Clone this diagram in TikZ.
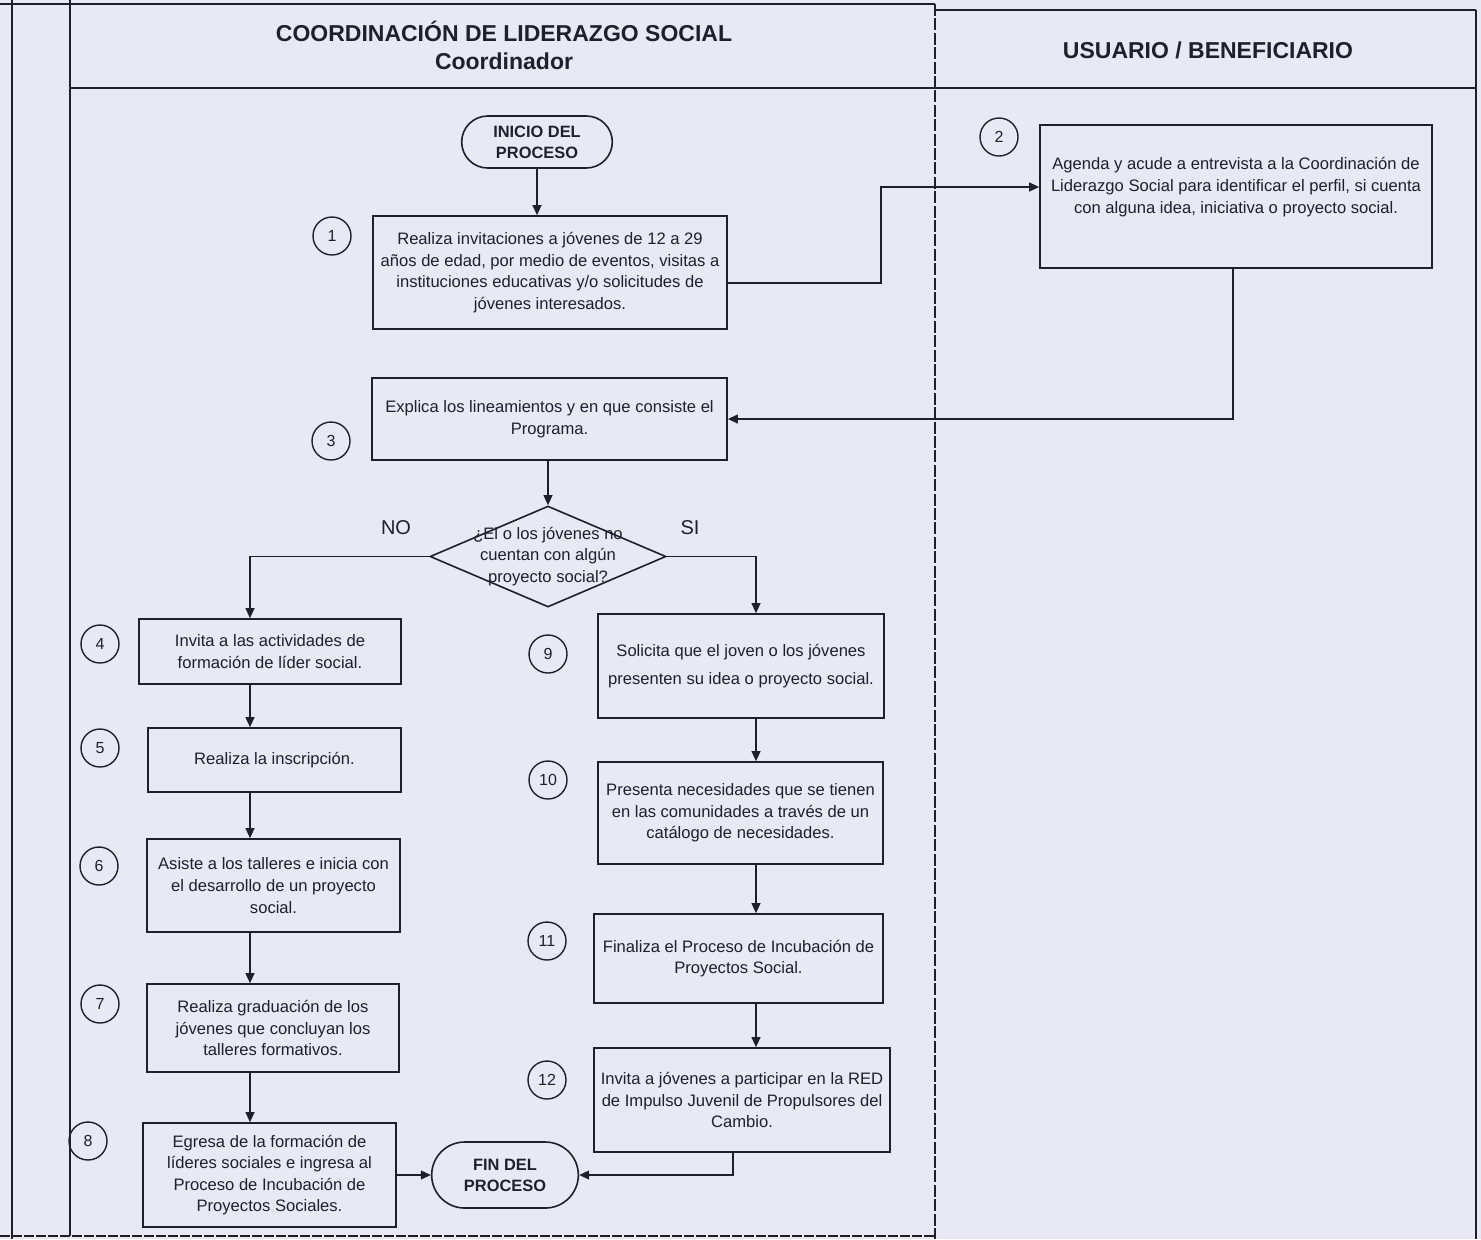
\documentclass[tikz,border=0pt]{standalone}
\usepackage{fontspec}
\setmainfont{Liberation Sans}
\usepackage{tikz}
\usetikzlibrary{arrows.meta}
\usetikzlibrary{shapes}
\usepackage{xcolor}

\definecolor{fondo}{RGB}{231,233,246}
\definecolor{tinta}{RGB}{32,32,38}

\tikzset{
    marco/.style={draw=tinta, line width=0.8pt},
    titulo/.style={text=tinta, font=\bfseries\fontsize{11.5}{13}\selectfont},
    rotulo/.style={text=tinta, font=\fontsize{10}{12}\selectfont},
    texto/.style={text=tinta, align=center, font=\fontsize{8.3}{10.8}\selectfont},
    caja/.style={texto, draw=tinta, line width=0.8pt, inner sep=2pt},
    terminal/.style={draw=tinta, line width=0.8pt, rounded rectangle, align=center,
        text=tinta, font=\bfseries\fontsize{8.2}{10.5}\selectfont,
        minimum width=74pt, minimum height=26pt},
    numero/.style={circle, draw=tinta, line width=0.7pt, minimum size=19pt, inner sep=0pt,
        text=tinta, font=\fontsize{8}{9}\selectfont},
    decision/.style={diamond, draw=tinta, line width=0.8pt, inner sep=0pt,
        minimum width=118pt, minimum height=50.5pt},
    flecha/.style={draw=tinta, line width=0.8pt, -{Triangle[length=5pt,width=4.4pt]}}
}

\begin{document}
\begin{tikzpicture}[x=0.5pt, y=-0.5pt]
                \fill[fondo] (0,0) rectangle (1481,1239);
                \useasboundingbox (0,0) rectangle (1481,1239);

                % carriles
                \draw[marco] (12,0) -- (12,1239);
                \draw[marco] (70,0) -- (70,1236);
                \draw[marco] (0,4) -- (935,4);
                \draw[marco] (935,10) -- (1476,10);
                \draw[marco] (70,88) -- (1476,88);
                \draw[marco, dash pattern=on 6pt off 1.2pt] (935,4) -- (935,1239);
                \draw[marco] (1476,10) -- (1476,1239);
                \draw[marco, dash pattern=on 5pt off 1pt] (0,1236) -- (935,1236);

                \node[titulo] (area) at (504,31) {COORDINACIÓN DE LIDERAZGO SOCIAL};
                \node[titulo] (puesto) at (504,61) {Coordinador};
                \node[titulo] (usuario) at (1208,50) {USUARIO / BENEFICIARIO};

                \coordinate (colA) at (250,0);
                \coordinate (colB) at (756,0);

                % coordinador
                \node[terminal, minimum width=82pt] (inicio) at (537,142) {INICIO DEL\\PROCESO};
                \node[caja, minimum width=177pt, minimum height=56.5pt] (p1) at (550,272.5)
                    {Realiza invitaciones a jóvenes de 12 a 29\\años de edad, por medio de eventos, visitas a\\instituciones educativas y/o solicitudes de\\jóvenes interesados.};
                \node[caja, minimum width=177.5pt, minimum height=41pt] (p3) at (549.5,419)
                    {Explica los lineamientos y en que consiste el\\Programa.};
                \node[decision, label={[texto]center:{¿El o los jóvenes no\\cuentan con algún\\proyecto social?}}] (q) at (548,556.5) {};
                \node[rotulo] (no) at (396,528) {NO};
                \node[rotulo] (si) at (690,528) {SI};

                \node[caja, minimum width=131pt, minimum height=32.5pt] (p4) at (270,651.5)
                    {Invita a las actividades de\\formación de líder social.};
                \node[caja, minimum width=126.5pt, minimum height=32pt] (p5) at (274.5,760)
                    {Realiza la inscripción.};
                \node[caja, minimum width=126.5pt, minimum height=46.5pt] (p6) at (273.5,885.5)
                    {Asiste a los talleres e inicia con\\el desarrollo de un proyecto\\social.};
                \node[caja, minimum width=126pt, minimum height=44pt] (p7) at (273,1028)
                    {Realiza graduación de los\\jóvenes que concluyan los\\talleres formativos.};
                \node[caja, minimum width=126.5pt, minimum height=52pt] (p8) at (269.5,1175)
                    {Egresa de la formación de\\líderes sociales e ingresa al\\Proceso de Incubación de\\Proyectos Sociales.};
                \node[terminal, minimum width=80pt, minimum height=33pt] (fin) at (505,1175) {FIN DEL\\PROCESO};

                \node[caja, minimum width=143pt, minimum height=52pt] (p9) at (741,666)
                    {Solicita que el joven o los jóvenes\\[3pt]presenten su idea o proyecto social.};
                \node[caja, minimum width=142.5pt, minimum height=51pt] (p10) at (740.5,813)
                    {Presenta necesidades que se tienen\\en las comunidades a través de un\\catálogo de necesidades.};
                \node[caja, minimum width=144.5pt, minimum height=44.5pt] (p11) at (738.5,958.5)
                    {Finaliza el Proceso de Incubación de\\Proyectos Social.};
                \node[caja, minimum width=148pt, minimum height=52pt] (p12) at (742,1100)
                    {Invita a jóvenes a participar en la RED\\de Impulso Juvenil de Propulsores del\\Cambio.};

                % usuario
                \node[caja, minimum width=196pt, minimum height=71.5pt,
                    label={[texto, yshift=4.75pt]center:{Agenda y acude a entrevista a la Coordinación de\\Liderazgo Social para identificar el perfil, si cuenta\\con alguna idea, iniciativa o proyecto social.}}] (p2) at (1236,196.5) {};

                \node[numero] (n1) at (332,236) {1};
                \node[numero] (n2) at (999,137) {2};
                \node[numero] (n3) at (331,441) {3};
                \node[numero] (n4) at (100,644) {4};
                \node[numero] (n5) at (100,748) {5};
                \node[numero] (n6) at (99,866) {6};
                \node[numero] (n7) at (100,1004) {7};
                \node[numero] (n8) at (88,1141) {8};
                \node[numero] (n9) at (548,654) {9};
                \node[numero] (n10) at (548,780) {10};
                \node[numero] (n11) at (547,941) {11};
                \node[numero] (n12) at (547,1080) {12};

                \draw[flecha] (inicio.south) -- (inicio.south |- p1.north);
                \draw[flecha] ([yshift=-5.25pt]p1.east) -- ++(153,0) |- ([yshift=4.75pt]p2.west);
                \draw[flecha] ([xshift=-1.5pt]p2.south) |- (p3.east);
                \draw[flecha] (q.north |- p3.south) -- (q.north);
                \draw[flecha] (q.west) -| (colA |- p4.north);
                \draw[flecha] (q.east) -| (colB |- p9.north);
                \draw[flecha] (colA |- p4.south) -- (colA |- p5.north);
                \draw[flecha] (colA |- p5.south) -- (colA |- p6.north);
                \draw[flecha] (colA |- p6.south) -- (colA |- p7.north);
                \draw[flecha] (colA |- p7.south) -- (colA |- p8.north);
                \draw[flecha] (p8.east) -- (fin.west);
                \draw[flecha] (colB |- p9.south) -- (colB |- p10.north);
                \draw[flecha] (colB |- p10.south) -- (colB |- p11.north);
                \draw[flecha] (colB |- p11.south) -- (colB |- p12.north);
                \draw[flecha] ([xshift=-4.5pt]p12.south) |- (fin.east);
            \end{tikzpicture}
\end{document}
